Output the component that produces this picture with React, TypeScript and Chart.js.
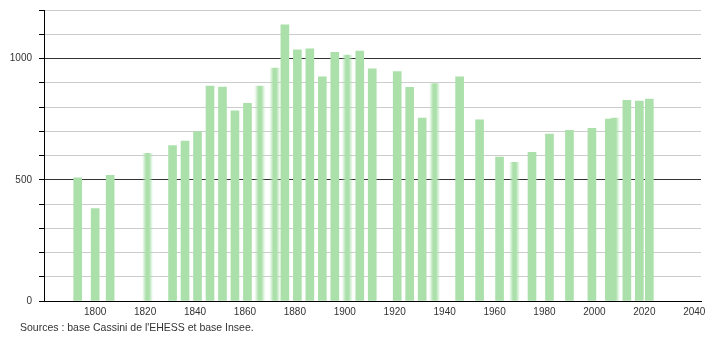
import React, { useEffect, useRef } from "react";
import { Chart, registerables } from "chart.js";

Chart.register(...registerables);

const solidYears = [1793, 1800, 1806, 1831, 1836, 1841, 1846, 1851, 1856, 1861, 1876, 1881, 1886, 1891, 1896, 1906, 1911, 1921, 1926, 1931, 1946, 1954, 1962, 1975, 1982, 1990, 1999, 2006, 2013, 2018, 2022];
const solidValues = [508, 381, 518, 641, 659, 699, 886, 882, 784, 815, 1139, 1036, 1040, 924, 1025, 1031, 957, 946, 881, 754, 924, 747, 594, 613, 688, 704, 712, 750, 828, 824, 833];

const fuzzyYears = [1821, 1866, 1872, 1901, 1936, 1968, 2008];
const fuzzyValues = [609, 886, 960, 1014, 897, 572, 754];

const yTickLabels = [0, 500, 1000];
const sourceText = "Sources : base Cassini de l'EHESS et base Insee.";

const GREEN = "rgb(171,224,171)";
const FONT = "'Liberation Sans', Arial, sans-serif";

export default function App() {
  const ref = useRef<HTMLCanvasElement | null>(null);

  useEffect(() => {
    if (!ref.current) return;
    const chart = new Chart(ref.current, {
      type: "bar",
      data: {
        datasets: [
          {
            data: solidYears.map((x, i) => ({ x, y: solidValues[i] })),
            backgroundColor: GREEN,
            borderWidth: 0,
            barThickness: 8,
            grouped: false,
          } as any,
          {
            data: fuzzyYears.map((x, i) => ({ x, y: fuzzyValues[i] })),
            backgroundColor: (c: any) => {
              const ch = c.chart;
              const xs = ch.scales && ch.scales.x;
              if (!xs || !c.raw) return GREEN;
              const px = xs.getPixelForValue(c.raw.x);
              if (!isFinite(px)) return GREEN;
              const g = ch.ctx.createLinearGradient(px - 5, 0, px + 5, 0);
              g.addColorStop(0, "rgba(171,224,171,0.1)");
              g.addColorStop(0.35, "rgba(171,224,171,1)");
              g.addColorStop(0.65, "rgba(171,224,171,1)");
              g.addColorStop(1, "rgba(171,224,171,0.1)");
              return g;
            },
            borderWidth: 0,
            barThickness: 10,
            grouped: false,
          } as any,
        ],
      },
      options: {
        animation: false,
        responsive: false,
        layout: { padding: { top: 10, right: 9, left: 0, bottom: 0 } },
        plugins: { legend: { display: false }, tooltip: { enabled: false } },
        scales: {
          x: {
            type: "linear",
            min: 1779.5,
            max: 2042.7,
            offset: false,
            grid: { display: false, drawTicks: false },
            border: { display: true, color: "#000", width: 1 },
            ticks: {
              stepSize: 20,
              includeBounds: false,
              padding: 5,
              color: "#333",
              font: { family: FONT, size: 10 },
              maxRotation: 0,
              autoSkip: false,
              callback: (v: any) => (v >= 1800 && v <= 2040 ? String(v) : ""),
            },
            afterFit: (s: any) => {
              s.height = 39;
              s.paddingLeft = 0;
              s.paddingRight = 0;
            },
          },
          y: {
            type: "linear",
            min: 0,
            max: 1200,
            grid: {
              color: (c: any) => (c.tick && c.tick.value % 500 === 0 ? "#333" : "#cccccc"),
              lineWidth: 1,
              drawTicks: true,
              tickLength: 5,
              tickColor: "#000",
            },
            border: { display: true, color: "#000", width: 1 },
            ticks: {
              stepSize: 100,
              padding: 7,
              color: "#333",
              font: { family: FONT, size: 10 },
              autoSkip: false,
              callback: (v: any) => (yTickLabels.includes(v) ? String(v) : ""),
            },
            afterFit: (s: any) => {
              s.width = 44;
              s.paddingTop = 0;
              s.paddingBottom = 0;
            },
          },
        },
      },
    });
    return () => chart.destroy();
  }, []);

  return (
    <div style={{ position: "absolute", left: 0, top: 0, width: 710, height: 340, background: "#fff" }}>
      <canvas ref={ref} width={710} height={340} style={{ display: "block" }} />
      <div
        style={{
          position: "absolute",
          left: 20,
          top: 321,
          fontFamily: FONT,
          fontSize: 10.5,
          color: "#333",
          whiteSpace: "nowrap",
        }}
      >
        {sourceText}
      </div>
    </div>
  );
}
